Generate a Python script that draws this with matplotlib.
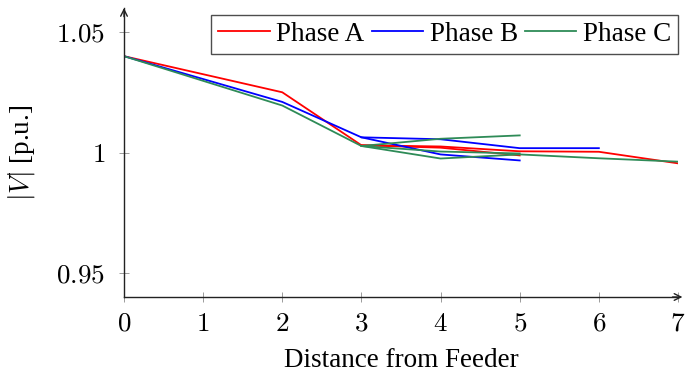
import matplotlib
matplotlib.use("Agg")
import matplotlib.pyplot as plt

plt.rcParams['font.family'] = ['Liberation Serif', 'DejaVu Serif']
plt.rcParams['mathtext.fontset'] = 'cm'

# Each phase: list of paths (distance, |V|) from the feeder
phase_a_x = [[0, 2, 3, 4, 5, 6, 7], [3, 4, 5]]
phase_a_y = [[1.040, 1.025, 1.003, 1.0025, 1.0005, 1.0003, 0.9955],
             [1.003, 1.002, 0.9988]]
phase_b_x = [[0, 2, 3, 4, 5, 6], [3, 4, 5]]
phase_b_y = [[1.040, 1.021, 1.0063, 1.0055, 1.0018, 1.0018],
             [1.0063, 0.9992, 0.9967]]
phase_c_x = [[0, 2, 3, 4, 5], [3, 4, 5, 6, 7], [3, 4, 5]]
phase_c_y = [[1.040, 1.0195, 1.0027, 1.0057, 1.0071],
             [1.0027, 0.9975, 0.9992, 0.9976, 0.9962],
             [1.0027, 1.0004, 0.9996]]

labels = ['Phase A', 'Phase B', 'Phase C']
colors = ['#ff0000', '#0000ff', '#2e8b57']
xticks = [0, 1, 2, 3, 4, 5, 6, 7]
yticks = [0.95, 1.0, 1.05]
yticklabels = ['$0.95$', '$1$', '$1.05$']

FS = 19.5

fig = plt.figure(figsize=(6.86, 3.83), dpi=100)
ax = fig.add_axes([124/686, 1-297/383, (678-124)/686, (297-8)/383])

phases = [(phase_a_x, phase_a_y), (phase_b_x, phase_b_y), (phase_c_x, phase_c_y)]
for (xs, ys), lab, col in zip(phases, labels, colors):
    for i, (x, y) in enumerate(zip(xs, ys)):
        ax.plot(x, y, color=col, lw=1.3, label=lab if i == 0 else None)

ax.set_xlim(0, 7)
ax.set_ylim(0.94, 1.06)
ax.set_xticks(xticks)
ax.set_xticklabels(['$%d$' % t for t in xticks])
ax.set_yticks(yticks)
ax.set_yticklabels(yticklabels)
ax.tick_params(direction='inout', length=7, width=0.6, color='#8c8c8c',
               labelsize=FS)
ax.tick_params(axis='y', pad=10)
ax.tick_params(axis='x', pad=7)
for s in ['top', 'right']:
    ax.spines[s].set_visible(False)
for s in ['left', 'bottom']:
    ax.spines[s].set_linewidth(1.0)
    ax.spines[s].set_color('#222222')

# arrow heads
ax.annotate('', xy=(1.008, 0), xytext=(0.99, 0), xycoords='axes fraction',
            arrowprops=dict(arrowstyle='->', color='#222222', lw=1.0,
                            mutation_scale=12, shrinkA=0, shrinkB=0))
ax.annotate('', xy=(0, 1.0), xytext=(0, 0.97), xycoords='axes fraction',
            arrowprops=dict(arrowstyle='->', color='#222222', lw=1.0,
                            mutation_scale=12, shrinkA=0, shrinkB=0))

ax.set_xlabel('Distance from Feeder', fontsize=FS, labelpad=8)
ax.set_ylabel('$|V|$ [p.u.]', fontsize=FS, labelpad=14)

leg = ax.legend(loc='upper right', bbox_to_anchor=(678/686, 1-15/383),
                bbox_transform=fig.transFigure, ncol=3, fontsize=FS,
                frameon=True, fancybox=False, handlelength=1.9,
                handletextpad=0.25, columnspacing=0.25, borderpad=0.25,
                borderaxespad=0)
leg.get_frame().set_edgecolor('#222222')
leg.get_frame().set_linewidth(1.0)

fig.savefig('out.png', dpi=100)
